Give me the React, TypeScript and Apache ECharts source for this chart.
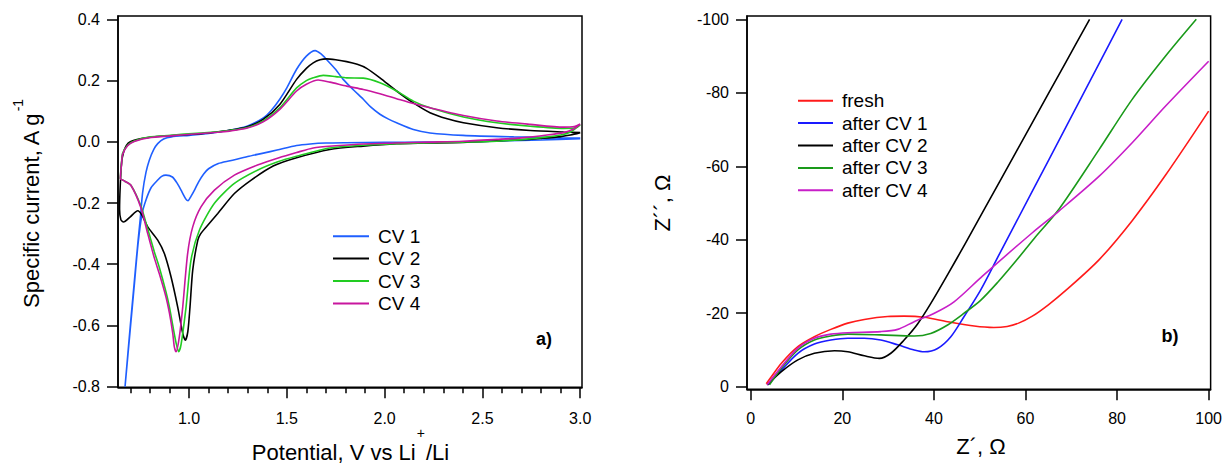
import React, { useEffect, useRef } from "react";
import * as echarts from "echarts";

const FONT = "'Liberation Sans', Arial, Helvetica, sans-serif";

// ---------- Panel a) cyclic voltammograms: [potential V, specific current A/g] ----------
const cvNames = ["CV 1", "CV 2", "CV 3", "CV 4"];
const cvColors = ["#1f5fff", "#000000", "#22cc22", "#c8169e"];

const cv1: number[][] = [
  [3.0, 0.010], [2.8, 0.006], [2.6, 0.003], [2.4, 0.0], [2.2, -0.001], [2.0, -0.002],
  [1.8, -0.003], [1.7, -0.004], [1.62, -0.007], [1.55, -0.012], [1.45, -0.027], [1.38, -0.037],
  [1.3, -0.048], [1.21, -0.062], [1.15, -0.071], [1.1, -0.088], [1.075, -0.105], [1.05, -0.13],
  [1.03, -0.155], [1.01, -0.178], [0.995, -0.192], [0.985, -0.188], [0.965, -0.165], [0.94, -0.136],
  [0.915, -0.115], [0.882, -0.109], [0.86, -0.113], [0.84, -0.125], [0.806, -0.15], [0.78, -0.19],
  [0.76, -0.235], [0.74, -0.33], [0.72, -0.47], [0.7, -0.61], [0.673, -0.8], [0.7, -0.6],
  [0.72, -0.46], [0.74, -0.32], [0.751, -0.25], [0.763, -0.165], [0.78, -0.1], [0.797, -0.06],
  [0.82, -0.025], [0.84, -0.006], [0.87, 0.009], [0.91, 0.016], [1.0, 0.021], [1.1, 0.027],
  [1.2, 0.037], [1.3, 0.052], [1.38, 0.078], [1.42, 0.102], [1.464, 0.139], [1.5, 0.176],
  [1.55, 0.237], [1.6, 0.28], [1.645, 0.298], [1.675, 0.287], [1.703, 0.269], [1.75, 0.236],
  [1.788, 0.204], [1.84, 0.17], [1.891, 0.139], [1.93, 0.113], [1.976, 0.09], [2.02, 0.074],
  [2.061, 0.062], [2.147, 0.04], [2.232, 0.029], [2.4, 0.021], [2.66, 0.016], [2.9, 0.013], [3.0, 0.012],
];

const cv2: number[][] = [
  [3.0, 0.03], [2.95, 0.022], [2.9, 0.017], [2.8, 0.011], [2.74, 0.008], [2.6, 0.004],
  [2.4, -0.002], [2.2, -0.004], [2.06, -0.006], [1.89, -0.014], [1.72, -0.025], [1.55, -0.052],
  [1.43, -0.079], [1.318, -0.125], [1.232, -0.169], [1.147, -0.234], [1.088, -0.278], [1.06, -0.3],
  [1.045, -0.321], [1.019, -0.419], [1.005, -0.54], [0.994, -0.62], [0.981, -0.648], [0.968, -0.626],
  [0.942, -0.539], [0.908, -0.441], [0.874, -0.365], [0.84, -0.321], [0.789, -0.278], [0.76, -0.24],
  [0.738, -0.225], [0.7, -0.245], [0.665, -0.262], [0.652, -0.255], [0.645, -0.22], [0.648, -0.15],
  [0.655, -0.07], [0.665, -0.035], [0.68, -0.012], [0.7, 0.0], [0.75, 0.01], [0.8, 0.015],
  [0.9, 0.02], [1.0, 0.024], [1.1, 0.029], [1.2, 0.037], [1.294, 0.048], [1.379, 0.073],
  [1.464, 0.122], [1.55, 0.204], [1.6, 0.24], [1.635, 0.258], [1.67, 0.268], [1.703, 0.271],
  [1.75, 0.268], [1.806, 0.262], [1.86, 0.253], [1.908, 0.24], [1.976, 0.209], [2.061, 0.166],
  [2.147, 0.127], [2.232, 0.095], [2.32, 0.075], [2.403, 0.062], [2.573, 0.046], [2.744, 0.037],
  [2.915, 0.032], [3.0, 0.03],
];

const cv3: number[][] = [
  [3.0, 0.055], [2.95, 0.032], [2.9, 0.022], [2.83, 0.016], [2.7, 0.007], [2.573, 0.002],
  [2.4, -0.001], [2.232, -0.003], [2.06, -0.006], [1.89, -0.011], [1.72, -0.02], [1.55, -0.047],
  [1.454, -0.065], [1.352, -0.092], [1.232, -0.136], [1.13, -0.201], [1.053, -0.289], [1.01, -0.387],
  [0.985, -0.539], [0.96, -0.66], [0.947, -0.686], [0.935, -0.66], [0.917, -0.6], [0.9, -0.54],
  [0.882, -0.49], [0.848, -0.41], [0.823, -0.36], [0.789, -0.285], [0.754, -0.21], [0.703, -0.142],
  [0.67, -0.128], [0.649, -0.12], [0.655, -0.07], [0.66, -0.038], [0.686, -0.011], [0.72, 0.003],
  [0.806, 0.016], [0.976, 0.025], [1.147, 0.033], [1.208, 0.037], [1.294, 0.046], [1.379, 0.068],
  [1.464, 0.111], [1.55, 0.176], [1.6, 0.2], [1.635, 0.209], [1.686, 0.217], [1.75, 0.213],
  [1.806, 0.209], [1.891, 0.208], [1.976, 0.193], [2.061, 0.166], [2.147, 0.133], [2.232, 0.111],
  [2.403, 0.081], [2.573, 0.062], [2.744, 0.051], [2.915, 0.044], [2.98, 0.046], [3.0, 0.055],
];

const cv4: number[][] = [
  [3.0, 0.058], [2.96, 0.04], [2.915, 0.03], [2.83, 0.022], [2.7, 0.013], [2.573, 0.008],
  [2.4, 0.002], [2.232, -0.001], [2.06, -0.004], [1.89, -0.007], [1.75, -0.013], [1.635, -0.02],
  [1.55, -0.035], [1.46, -0.052], [1.35, -0.076], [1.232, -0.109], [1.13, -0.158], [1.062, -0.212],
  [1.019, -0.278], [0.993, -0.365], [0.968, -0.539], [0.95, -0.64], [0.934, -0.686], [0.925, -0.67],
  [0.917, -0.626], [0.9, -0.56], [0.882, -0.506], [0.848, -0.43], [0.823, -0.38], [0.789, -0.3],
  [0.754, -0.215], [0.703, -0.142], [0.67, -0.128], [0.649, -0.12], [0.655, -0.075], [0.66, -0.042],
  [0.686, -0.013], [0.72, 0.001], [0.806, 0.014], [0.976, 0.023], [1.147, 0.031], [1.208, 0.035],
  [1.294, 0.044], [1.379, 0.065], [1.464, 0.106], [1.55, 0.166], [1.6, 0.188], [1.66, 0.202],
  [1.72, 0.195], [1.806, 0.182], [1.891, 0.171], [1.976, 0.157], [2.061, 0.141], [2.147, 0.125],
  [2.232, 0.111], [2.403, 0.086], [2.573, 0.068], [2.744, 0.057], [2.915, 0.048], [2.97, 0.05], [3.0, 0.058],
];

const potentialTicks = [1.0, 1.5, 2.0, 2.5, 3.0];
const potentialMinorTicks = [0.7, 0.8, 0.9, 1.1, 1.2, 1.3, 1.4, 1.6, 1.7, 1.8, 1.9, 2.1, 2.2, 2.3, 2.4, 2.6, 2.7, 2.8, 2.9];
const currentTicks = [-0.8, -0.6, -0.4, -0.2, 0, 0.2, 0.4];

// ---------- Panel b) Nyquist plots: [Z' ohm, Z'' ohm] ----------
const eisNames = ["fresh", "after CV 1", "after CV 2", "after CV 3", "after CV 4"];
const eisColors = ["#ff1a1a", "#1a1aff", "#000000", "#1a9a1a", "#c81ec8"];

const eisFresh: number[][] = [
  [3.4, -0.8], [4.5, -2.7], [6.7, -6.4], [10.3, -10.9], [13.9, -13.6], [17.5, -15.6],
  [21.2, -17.3], [24.8, -18.3], [29.9, -19.1], [33.5, -19.2], [37.9, -18.9], [43.0, -17.7],
  [48.8, -16.5], [53.1, -16.1], [56.0, -16.4], [58.5, -17.3], [61.5, -19.2], [65.0, -22.3],
  [68.8, -26.2], [76.1, -34.6], [83.3, -45.2], [90.6, -57.6], [100.0, -75.0],
];
const eisCv1: number[][] = [
  [3.8, -0.5], [6.7, -4.5], [10.3, -9.1], [13.9, -11.6], [17.5, -12.7], [21.2, -13.2],
  [24.8, -13.2], [28.4, -12.7], [32.1, -11.4], [35.7, -10.0], [37.9, -9.5], [40.8, -10.4],
  [43.7, -13.6], [46.6, -19.1], [50.2, -26.3], [54.3, -36.1], [61.5, -53.2], [68.8, -70.6],
  [76.1, -88.0], [81.1, -100.0],
];
const eisCv2: number[][] = [
  [3.6, -0.5], [6.7, -4.1], [10.3, -7.3], [13.9, -9.1], [18.3, -9.8], [21.2, -9.5],
  [24.8, -8.4], [28.1, -7.7], [30.6, -9.1], [33.5, -12.7], [36.4, -17.0], [39.3, -22.6],
  [43.0, -30.5], [47.0, -39.3], [54.3, -55.7], [61.5, -71.9], [68.8, -88.3], [74.0, -100.0],
];
const eisCv3: number[][] = [
  [4.1, -0.5], [6.7, -5.0], [10.3, -10.0], [13.9, -12.7], [17.5, -13.8], [21.2, -14.3],
  [28.4, -14.1], [35.7, -13.8], [39.3, -14.5], [43.0, -16.8], [46.6, -20.0], [50.2, -23.5],
  [54.0, -28.5], [57.9, -34.2], [62.0, -40.5], [67.3, -48.3], [76.1, -64.6], [83.3, -78.2],
  [90.6, -90.0], [97.3, -100.0],
];
const eisCv4: number[][] = [
  [3.6, -0.5], [6.7, -5.4], [10.3, -10.5], [13.9, -13.2], [17.5, -14.3], [21.2, -14.7],
  [28.4, -15.0], [32.1, -15.6], [35.7, -17.7], [40.1, -20.0], [44.4, -23.1], [50.6, -30.1],
  [61.5, -41.9], [67.3, -47.8], [76.1, -57.3], [83.3, -66.4], [90.6, -76.4], [100.0, -88.6],
];

const zReTicks = [0, 20, 40, 60, 80, 100];
const zImTicks = [-100, -80, -60, -40, -20, 0];

const cvData = [cv1, cv2, cv3, cv4];
const eisData = [eisFresh, eisCv1, eisCv2, eisCv3, eisCv4];

const axisLineStyle = { color: "#000", width: 1.5 };
const labelBase = { fontSize: 16, color: "#000", fontFamily: FONT };

export default function App() {
  const ref = useRef<HTMLDivElement>(null);

  useEffect(() => {
    if (!ref.current) return;
    const chart = echarts.init(ref.current, undefined, { renderer: "svg" });

    const cvSeries = cvNames.map((name, i) => ({
      name,
      type: "line",
      xAxisIndex: 0,
      yAxisIndex: 0,
      data: cvData[i],
      symbol: "none",
      smooth: 0.25,
      color: cvColors[i],
      lineStyle: { width: 1.6, color: cvColors[i] },
    }));
    const eisSeries = eisNames.map((name, i) => ({
      name,
      type: "line",
      xAxisIndex: 2,
      yAxisIndex: 1,
      data: eisData[i],
      symbol: "none",
      smooth: 0.3,
      color: eisColors[i],
      lineStyle: { width: 1.6, color: eisColors[i] },
    }));

    const option: any = {
      animation: false,
      backgroundColor: "#ffffff",
      textStyle: { fontFamily: FONT },
      grid: [
        { left: 118, top: 16, width: 464, height: 371.3, show: true, borderColor: "#000", borderWidth: 1.5, backgroundColor: "transparent" },
        { left: 747, top: 16, width: 465, height: 373.3, show: true, borderColor: "#000", borderWidth: 1.5, backgroundColor: "transparent" },
      ],
      xAxis: [
        {
          type: "value", gridIndex: 0, min: 0.637, max: 3.009,
          axisLine: { show: true, onZero: false, lineStyle: axisLineStyle },
          axisTick: { show: true, length: 11, lineStyle: axisLineStyle, customValues: potentialTicks },
          axisLabel: { ...labelBase, margin: 23, customValues: potentialTicks, formatter: (v: number) => v.toFixed(1) },
          splitLine: { show: false },
        },
        {
          type: "value", gridIndex: 0, position: "bottom", min: 0.637, max: 3.009,
          axisLine: { show: false, onZero: false },
          axisTick: { show: true, length: 6, lineStyle: axisLineStyle, customValues: potentialMinorTicks },
          axisLabel: { show: false },
          splitLine: { show: false },
        },
        {
          type: "value", gridIndex: 1, min: -0.81, max: 100.43,
          axisLine: { show: true, onZero: false, lineStyle: axisLineStyle },
          axisTick: { show: true, length: 11, lineStyle: axisLineStyle, customValues: zReTicks },
          axisLabel: { ...labelBase, margin: 21, customValues: zReTicks, formatter: (v: number) => String(Math.round(v)) },
          splitLine: { show: false },
        },
      ],
      yAxis: [
        {
          type: "value", gridIndex: 0, min: -0.802, max: 0.411,
          axisLine: { show: true, onZero: false, lineStyle: axisLineStyle },
          axisTick: { show: true, length: 11, lineStyle: axisLineStyle, customValues: currentTicks },
          axisLabel: { ...labelBase, margin: 18, customValues: currentTicks, formatter: (v: number) => (Math.abs(v) < 1e-9 ? "0.0" : v.toFixed(1)) },
          splitLine: { show: false },
        },
        {
          type: "value", gridIndex: 1, inverse: true, min: -100.9, max: 0.71,
          axisLine: { show: true, onZero: false, lineStyle: axisLineStyle },
          axisTick: { show: true, length: 11, lineStyle: axisLineStyle, customValues: zImTicks },
          axisLabel: { ...labelBase, margin: 18, customValues: zImTicks, formatter: (v: number) => (Math.abs(v) < 1e-9 ? "0" : String(Math.round(v))) },
          splitLine: { show: false },
        },
      ],
      legend: [
        {
          data: cvNames, orient: "vertical", left: 333, top: 225, padding: 0, itemGap: 0,
          icon: "rect", itemWidth: 36, itemHeight: 2, selectedMode: false,
          textStyle: { fontSize: 19, color: "#000", fontFamily: FONT, lineHeight: 22.4, padding: [0, 0, 0, 4] },
        },
        {
          data: eisNames, orient: "vertical", left: 798, top: 89.5, padding: 0, itemGap: 0,
          icon: "rect", itemWidth: 35, itemHeight: 2, selectedMode: false,
          textStyle: { fontSize: 19, color: "#000", fontFamily: FONT, lineHeight: 22.4, padding: [0, 0, 0, 4] },
        },
      ],
      graphic: [
        {
          type: "text", x: 350.5, y: 452,
          style: {
            text: "{m|Potential, V vs Li}{s|+}{m|/Li}",
            align: "center", verticalAlign: "middle", fill: "#000",
            rich: {
              m: { fontSize: 22, lineHeight: 52, fontFamily: FONT, fill: "#000" },
              s: { fontSize: 14, verticalAlign: "top", fontFamily: FONT, fill: "#000", padding: [0, 1, 0, 1] },
            },
          },
        },
        {
          type: "text", x: 31, y: 204, rotation: Math.PI / 2,
          style: {
            text: "{m|Specific current, A g}{s|-1}",
            align: "center", verticalAlign: "middle", fill: "#000",
            rich: {
              m: { fontSize: 22, lineHeight: 40, fontFamily: FONT, fill: "#000" },
              s: { fontSize: 14, verticalAlign: "top", fontFamily: FONT, fill: "#000", padding: [0, 0, 0, 1] },
            },
          },
        },
        {
          type: "text", x: 981, y: 446,
          style: { text: "Z´, Ω", align: "center", verticalAlign: "middle", fill: "#000", fontSize: 22, fontFamily: FONT },
        },
        {
          type: "text", x: 662, y: 203, rotation: Math.PI / 2,
          style: { text: "Z´´, Ω", align: "center", verticalAlign: "middle", fill: "#000", fontSize: 22, fontFamily: FONT },
        },
        {
          type: "text", x: 544, y: 339,
          style: { text: "a)", align: "center", verticalAlign: "middle", fill: "#000", fontSize: 18, fontWeight: "bold", fontFamily: FONT },
        },
        {
          type: "text", x: 1170, y: 336,
          style: { text: "b)", align: "center", verticalAlign: "middle", fill: "#000", fontSize: 18, fontWeight: "bold", fontFamily: FONT },
        },
      ],
      series: [...cvSeries, ...eisSeries],
    };

    chart.setOption(option);
    return () => {
      chart.dispose();
    };
  }, []);

  return (
    <div
      ref={ref}
      style={{ position: "absolute", left: 0, top: 0, width: 1225, height: 466, background: "#fff" }}
    />
  );
}
